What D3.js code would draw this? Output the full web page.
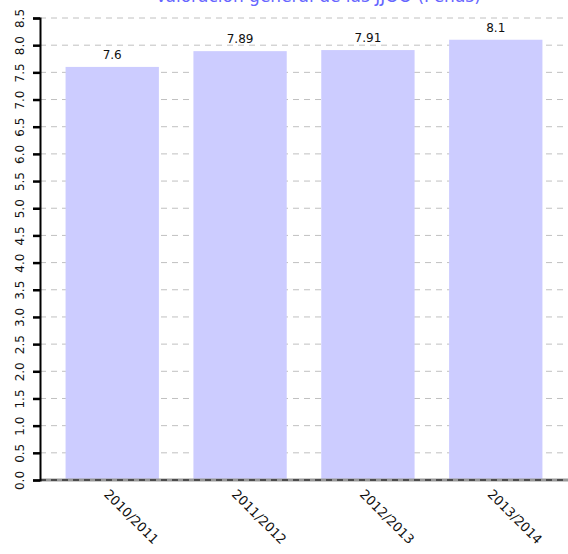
<!DOCTYPE html>
<html>
<head>
<meta charset="utf-8">
<script src="https://cdn.jsdelivr.net/npm/d3@7"></script>
<style>
body { margin: 0; background: #fff; }
text { font-family: "DejaVu Sans", sans-serif; }
</style>
</head>
<body>
<script>
var w = 568;
var h = 554;

var categories = ["2010/2011", "2011/2012", "2012/2013", "2013/2014"];
var values = [7.6, 7.89, 7.91, 8.1];
var yTicks = [0, 0.5, 1, 1.5, 2, 2.5, 3, 3.5, 4, 4.5, 5, 5.5, 6, 6.5, 7, 7.5, 8, 8.5];
var title = "Valoración general de las JJOO (Peñas)";

var plotLeft = 40, plotRight = 568, plotTop = 18, plotBottom = 480;

var svg = d3.select("body").append("svg")
  .attr("width", w)
  .attr("height", h);

var x = d3.scaleBand()
  .domain(categories)
  .range([plotLeft, plotRight])
  .paddingInner(0.27)
  .paddingOuter(0.2);

var y = d3.scaleLinear()
  .domain([0, 8.5])
  .range([plotBottom, plotTop]);

// grid lines
svg.selectAll(".grid")
  .data(yTicks.filter(function(d){ return d > 0; }))
  .join("line")
  .attr("class", "grid")
  .attr("x1", plotLeft)
  .attr("x2", plotRight)
  .attr("y1", function(d){ return y(d); })
  .attr("y2", function(d){ return y(d); })
  .attr("stroke", "#c0c0c0")
  .attr("stroke-width", 1)
  .attr("stroke-dasharray", "6,5");

// bars
svg.selectAll(".bar")
  .data(values)
  .join("rect")
  .attr("class", "bar")
  .attr("x", function(d, i){ return x(categories[i]); })
  .attr("y", function(d){ return y(d); })
  .attr("width", x.bandwidth())
  .attr("height", function(d){ return y(0) - y(d); })
  .attr("fill", "#ccccff");

// value labels
svg.selectAll(".val")
  .data(values)
  .join("text")
  .attr("class", "val")
  .attr("x", function(d, i){ return x(categories[i]) + x.bandwidth() / 2; })
  .attr("y", function(d){ return y(d) - 8; })
  .attr("text-anchor", "middle")
  .attr("font-size", 12)
  .attr("fill", "#111")
  .text(function(d){ return d; });

// baseline
svg.append("line")
  .attr("x1", plotLeft).attr("x2", plotRight)
  .attr("y1", y(0)).attr("y2", y(0))
  .attr("stroke", "#999").attr("stroke-width", 3);
svg.append("line")
  .attr("x1", plotLeft).attr("x2", plotRight)
  .attr("y1", y(0)).attr("y2", y(0))
  .attr("stroke", "#333").attr("stroke-width", 1.5)
  .attr("stroke-dasharray", "6,5");

// y axis
var yAxis = d3.axisLeft(y)
  .tickValues(yTicks)
  .tickSize(7)
  .tickFormat(d3.format(".1f"));

var ga = svg.append("g")
  .attr("transform", "translate(" + plotLeft + ",0)")
  .call(yAxis);
ga.select(".domain").attr("stroke", "#000").attr("stroke-width", 2);
ga.selectAll(".tick line").attr("stroke", "#000").attr("stroke-width", 2.5);
ga.selectAll(".tick text")
  .attr("font-size", 12)
  .attr("font-family", "DejaVu Sans, sans-serif")
  .attr("fill", "#111")
  .attr("x", null)
  .attr("text-anchor", "middle")
  .attr("transform", "translate(-20,0) rotate(-90)")
  .attr("dy", "0.35em");

// x labels
svg.selectAll(".xl")
  .data(categories)
  .join("text")
  .attr("class", "xl")
  .attr("transform", function(d){
    return "translate(" + (x(d) + x.bandwidth() / 2 - 9) + "," + (plotBottom + 15) + ") rotate(45)";
  })
  .attr("text-anchor", "start")
  .attr("font-size", 13)
  .attr("fill", "#111")
  .text(function(d){ return d; });

// title (cut off at top, as in the original)
svg.append("text")
  .attr("x", 318)
  .attr("y", 2)
  .attr("text-anchor", "middle")
  .attr("font-size", 17)
  .attr("fill", "#6666ff")
  .text(title);
</script>
</body>
</html>
